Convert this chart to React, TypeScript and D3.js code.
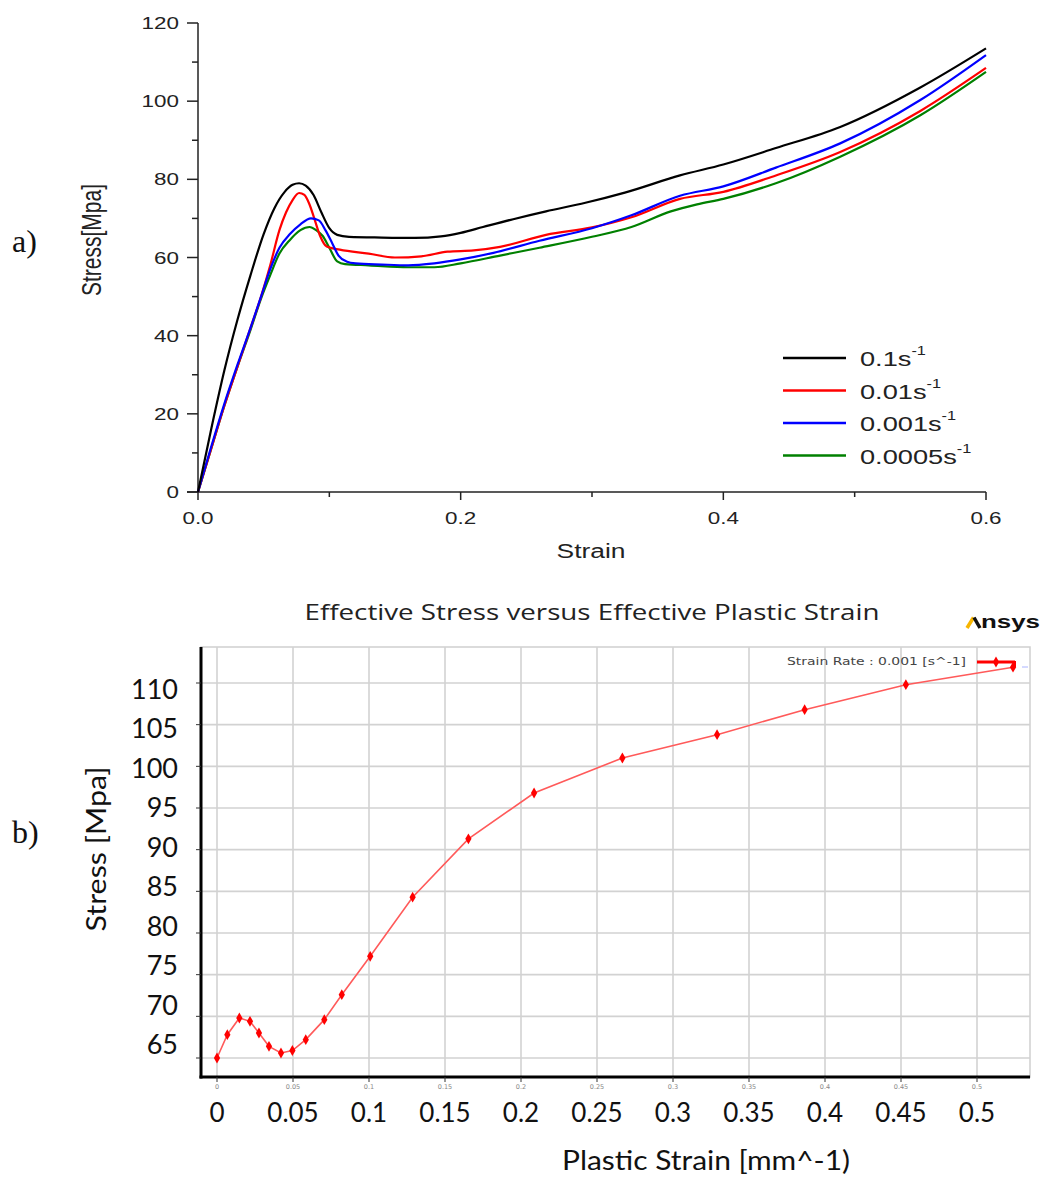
import React from 'react';
import * as d3 from 'd3';

type Pt = [number, number];

// ---------- Top chart (a) data: [strain, stress MPa] ----------
const rate01: Pt[] = [[0,0],[0.01,16],[0.02,31],[0.03,44],[0.04,55.5],[0.05,66],[0.058,72.5],[0.066,76.8],[0.072,78.6],[0.077,79],[0.082,78.4],[0.088,76],[0.094,71.5],[0.1,67.5],[0.106,65.8],[0.115,65.3],[0.14,65.1],[0.165,65],[0.185,65.4],[0.2,66.3],[0.217,67.8],[0.24,69.8],[0.265,71.8],[0.295,74],[0.325,76.6],[0.367,81],[0.4,83.8],[0.44,88],[0.489,93.4],[0.55,103.5],[0.6,113.5]];
const rate001: Pt[] = [[0,0],[0.01,11],[0.02,22],[0.03,32],[0.04,42],[0.048,50],[0.055,58],[0.062,67],[0.067,71.5],[0.072,74.7],[0.077,76.5],[0.081,76],[0.085,73.5],[0.089,69.5],[0.093,65.5],[0.098,62.8],[0.108,62],[0.13,61],[0.15,60],[0.17,60.3],[0.19,61.5],[0.21,61.8],[0.23,62.7],[0.265,65.8],[0.3,67.7],[0.33,70.3],[0.367,75],[0.4,76.8],[0.44,81],[0.489,87],[0.55,97.5],[0.6,108.5]];
const rate0001: Pt[] = [[0,0],[0.01,11.5],[0.02,22.5],[0.03,32.5],[0.04,42],[0.048,50],[0.055,57],[0.062,62.5],[0.07,66],[0.078,68.5],[0.086,70],[0.092,69.5],[0.097,67],[0.102,63.8],[0.107,60.5],[0.113,59],[0.12,58.5],[0.14,58.2],[0.16,58],[0.18,58.5],[0.2,59.5],[0.225,61.2],[0.26,64.3],[0.3,67.5],[0.33,70.8],[0.367,75.8],[0.4,78.2],[0.44,83],[0.489,89.2],[0.55,100.3],[0.6,111.8]];
const rate00005: Pt[] = [[0,0],[0.01,11],[0.02,22],[0.03,32],[0.04,41.5],[0.048,49.5],[0.055,55.5],[0.062,61],[0.07,64.5],[0.078,67],[0.085,67.8],[0.09,67],[0.095,65.5],[0.1,62.5],[0.106,59],[0.112,58.3],[0.13,58],[0.16,57.5],[0.18,57.5],[0.2,58.5],[0.23,60.5],[0.26,62.5],[0.3,65.3],[0.33,67.8],[0.36,71.8],[0.38,73.6],[0.4,75],[0.44,79],[0.489,85.8],[0.55,96.4],[0.6,107.5]];

const topLabels = ['0.1s', '0.01s', '0.001s', '0.0005s'];
const topColors = ['#000000', '#ff0000', '#0000ff', '#008000'];
const topXMajor = [0, 0.2, 0.4, 0.6];
const topXMinor = [0.1, 0.3, 0.5];
const topYMajor = [0, 20, 40, 60, 80, 100, 120];
const topYMinor = [10, 30, 50, 70, 90, 110];

// ---------- Bottom chart (b) data ----------
const plasticStrain = [0, 0.0068, 0.0147, 0.0217, 0.0276, 0.0342, 0.0421, 0.0496, 0.0584, 0.0706, 0.0821, 0.1008, 0.1287, 0.1654, 0.2086, 0.2667, 0.329, 0.3866, 0.4532, 0.5237];
const effStress = [65.0, 67.8, 69.8, 69.4, 68.0, 66.4, 65.6, 65.9, 67.2, 69.6, 72.6, 77.2, 84.3, 91.3, 96.8, 101.0, 103.8, 106.8, 109.8, 111.9];
const botXTicks = [0, 0.05, 0.1, 0.15, 0.2, 0.25, 0.3, 0.35, 0.4, 0.45, 0.5];
const botXTickLabels = ['0', '0.05', '0.1', '0.15', '0.2', '0.25', '0.3', '0.35', '0.4', '0.45', '0.5'];
const botYTicks = [65, 70, 75, 80, 85, 90, 95, 100, 105, 110];

export default function App() {
  // top scales
  const tx = d3.scaleLinear().domain([0, 0.6]).range([198, 986]);
  const ty = d3.scaleLinear().domain([0, 120]).range([492, 23]);
  const tLine = d3.line<Pt>().x(d => tx(d[0])).y(d => ty(d[1])).curve(d3.curveMonotoneX);
  const topSeries = [rate01, rate001, rate0001, rate00005];
  const drawOrder = [3, 1, 2, 0];

  // bottom scales
  const bx = d3.scaleLinear().domain([0, 0.5]).range([217, 977]);
  const by = d3.scaleLinear().domain([65, 110]).range([1058, 683]);
  const byLabel = d3.scaleLinear().domain([65, 110]).range([1045, 690]);
  const bPts: Pt[] = plasticStrain.map((s, i) => [s, effStress[i]]);
  const bLine = d3.line<Pt>().x(d => bx(d[0])).y(d => by(d[1]));
  const diamond = d3.symbol().type(d3.symbolDiamond).size(34)() || '';
  const frameL = 201, frameR = 1030, frameT = 647, frameB = 1077;

  const sansTop = '"Liberation Sans", Arial, sans-serif';
  const sx = 1.32;

  return (
    <svg width={1044} height={1178} style={{ position: 'absolute', left: 0, top: 0, background: '#fff' }}>
      <rect x={0} y={0} width={1044} height={1178} fill="#ffffff" />
      {/* panel letters */}
      <text x={12} y={252} fontFamily='"Liberation Serif", serif' fontSize={32} fill="#111">a)</text>
      <text x={12} y={843} fontFamily='"Liberation Serif", serif' fontSize={32} fill="#111">b)</text>

      {/* ===== Top chart ===== */}
      <g fontFamily={sansTop} fill="#222">
        <line x1={198} x2={198} y1={ty(120)} y2={ty(0)} stroke="#222" strokeWidth={1.5} />
        {topYMajor.map(v => (
          <g key={'ym' + v}>
            <line x1={187} x2={198} y1={ty(v)} y2={ty(v)} stroke="#222" strokeWidth={1.5} />
            <text transform={`translate(179,${ty(v) + 6}) scale(${sx},1)`} textAnchor="end" fontSize={17}>{v}</text>
          </g>
        ))}
        {topYMinor.map(v => (
          <line key={'yn' + v} x1={192} x2={198} y1={ty(v)} y2={ty(v)} stroke="#222" strokeWidth={1.5} />
        ))}
        <line x1={187} x2={tx(0.6)} y1={ty(0)} y2={ty(0)} stroke="#222" strokeWidth={1.5} />
        {topXMajor.map(v => (
          <g key={'xm' + v}>
            <line x1={tx(v)} x2={tx(v)} y1={492} y2={500} stroke="#222" strokeWidth={1.5} />
            <text transform={`translate(${tx(v)},524) scale(${sx},1)`} textAnchor="middle" fontSize={17}>{v.toFixed(1)}</text>
          </g>
        ))}
        {topXMinor.map(v => (
          <line key={'xn' + v} x1={tx(v)} x2={tx(v)} y1={492} y2={497} stroke="#222" strokeWidth={1.5} />
        ))}
        <text transform={`translate(591,558) scale(${sx},1)`} textAnchor="middle" fontSize={20}>Strain</text>
        <text transform={`translate(101,240) rotate(-90) scale(1,${sx})`} textAnchor="middle" fontSize={21}>Stress[Mpa]</text>

        {drawOrder.map(i => (
          <path key={'c' + i} d={tLine(topSeries[i]) || ''} fill="none" stroke={topColors[i]} strokeWidth={2.2} strokeLinejoin="round" />
        ))}

        {topLabels.map((lab, i) => {
          const yy = 358 + i * 32.5;
          return (
            <g key={'lg' + i}>
              <line x1={783} x2={846} y1={yy} y2={yy} stroke={topColors[i]} strokeWidth={2.5} />
              <text transform={`translate(860,${yy + 8}) scale(1.36,1)`} fontSize={20} fill="#222">
                <tspan>{lab}</tspan>
                <tspan fontSize={12} dy={-11}>-1</tspan>
              </text>
            </g>
          );
        })}
      </g>

      {/* ===== Bottom chart ===== */}
      <text x={592} y={620} textAnchor="middle" fontFamily='"Open Sans", "Noto Sans", sans-serif' fontSize={22} fill="#222" textLength={575} lengthAdjust="spacingAndGlyphs">Effective Stress versus Effective Plastic Strain</text>
      <g>
        <line x1={967} y1={628} x2={973.5} y2={617.5} stroke="#f7b500" strokeWidth={3.5} />
        <line x1={974} y1={617.5} x2={980} y2={628} stroke="#111" strokeWidth={3.5} />
        <text x={981} y={628} fontFamily='"Liberation Sans", Arial, sans-serif' fontWeight="bold" fontSize={18} fill="#111" textLength={59} lengthAdjust="spacingAndGlyphs">nsys</text>
      </g>

      <rect x={frameL} y={frameT} width={frameR - frameL} height={frameB - frameT} fill="#fff" stroke="#cfcfcf" strokeWidth={1.5} />
      {botXTicks.map(v => (
        <line key={'gx' + v} x1={bx(v)} x2={bx(v)} y1={frameT} y2={frameB} stroke="#d2d2d2" strokeWidth={1.6} />
      ))}
      {botYTicks.map(v => (
        <line key={'gy' + v} x1={frameL} x2={frameR} y1={by(v)} y2={by(v)} stroke="#d2d2d2" strokeWidth={1.6} />
      ))}
      <line x1={frameL} x2={frameL} y1={frameT} y2={frameB + 1.5} stroke="#000" strokeWidth={3} />
      <line x1={frameL - 1.5} x2={frameR} y1={frameB} y2={frameB} stroke="#000" strokeWidth={3} />
      {botXTicks.map(v => (
        <line key={'tx' + v} x1={bx(v)} x2={bx(v)} y1={frameB} y2={frameB + 5} stroke="#333" strokeWidth={1} />
      ))}
      {botYTicks.map(v => (
        <line key={'ty' + v} x1={frameL - 5} x2={frameL} y1={by(v)} y2={by(v)} stroke="#333" strokeWidth={1} />
      ))}
      {botXTicks.map((v, i) => (
        <text key={'tl' + v} x={bx(v)} y={1089} textAnchor="middle" fontFamily='"DejaVu Sans", sans-serif' fontSize={6.5} fill="#888">{botXTickLabels[i]}</text>
      ))}

      <path d={bLine(bPts) || ''} fill="none" stroke="#ff5a5a" strokeWidth={1.6} />
      {bPts.map((p, i) => (
        <path key={'m' + i} d={diamond} transform={`translate(${bx(p[0])},${by(p[1])})`} fill="#ff0000" />
      ))}

      <text x={787} y={665} fontFamily='"DejaVu Sans", sans-serif' fontSize={10} fill="#444" textLength={179} lengthAdjust="spacingAndGlyphs">Strain Rate : 0.001 [s^-1]</text>
      <line x1={977} x2={1015} y1={662} y2={662} stroke="#ff0000" strokeWidth={3} />
      <line x1={1015} x2={1015} y1={661} y2={667} stroke="#ff0000" strokeWidth={2} />
      <path d={diamond} transform="translate(996,662)" fill="#ff0000" />
      <line x1={1022} x2={1028} y1={667} y2={667} stroke="#aab4ff" strokeWidth={1} />

      {botYTicks.map(v => (
        <text key={'yl' + v} x={178} y={byLabel(v) + 9} textAnchor="end" fontFamily='Lato, "Open Sans", sans-serif' fontSize={27} fill="#111">{v}</text>
      ))}
      {botXTicks.map((v, i) => (
        <text key={'xl' + v} x={bx(v)} y={1122} textAnchor="middle" fontFamily='Lato, "Open Sans", sans-serif' fontSize={26} fill="#111">{botXTickLabels[i]}</text>
      ))}
      <text transform="translate(106,849) rotate(-90)" textAnchor="middle" fontFamily='Lato, "Open Sans", sans-serif' fontSize={27} fill="#111" textLength={165} lengthAdjust="spacingAndGlyphs">Stress [Mpa]</text>
      <text x={706} y={1170} textAnchor="middle" fontFamily='Lato, "Open Sans", sans-serif' fontSize={26} fill="#111" textLength={288} lengthAdjust="spacingAndGlyphs">Plastic Strain [mm^-1)</text>
    </svg>
  );
}
